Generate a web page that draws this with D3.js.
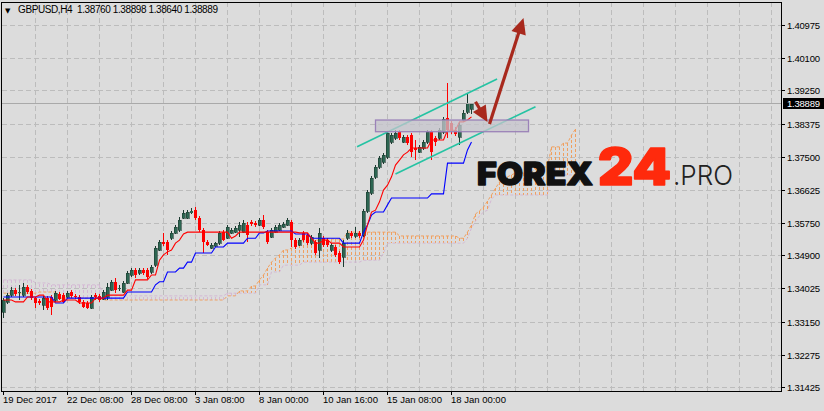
<!DOCTYPE html>
<html><head><meta charset="utf-8">
<script src="https://cdn.jsdelivr.net/npm/d3@7"></script>
<style>
html,body{margin:0;padding:0;background:#dcdcdc;}
svg{display:block;}
</style></head><body>
<svg id="c" width="824" height="411"></svg>
<script>
// ---------- DATA ----------
const symbolTitle = "GBPUSD,H4";
const titleQuote = ["1.38760","1.38898","1.38640","1.38889"];

const openP = [1.3340,1.3367,1.3385,1.3398,1.3390,1.3385,1.3406,1.3396,1.3377,1.3369,
1.3359,1.3377,1.3380,1.3372,1.3388,1.3385,1.3380,1.3393,1.3383,1.3380,
1.3367,1.3364,1.3351,1.3385,1.3383,1.3375,1.3380,1.3398,1.3420,1.3401,
1.3393,1.3417,1.3438,1.3451,1.3443,1.3451,1.3451,1.3446,1.3464,1.3504,
1.3525,1.3525,1.3535,1.3549,1.3557,1.3588,1.3588,1.3602,1.3609,1.3588,
1.3557,1.3525,1.3509,1.3514,1.3522,1.3551,1.3535,1.3549,1.3551,1.3557,
1.3551,1.3570,1.3578,1.3575,1.3570,1.3583,1.3551,1.3538,1.3551,1.3557,
1.3565,1.3570,1.3578,1.3530,1.3517,1.3549,1.3543,1.3522,1.3525,1.3504,
1.3535,1.3530,1.3504,1.3512,1.3496,1.3485,1.3535,1.3549,1.3541,1.3549,
1.3543,1.3607,1.3654,1.3697,1.3723,1.3736,1.3749,1.3789,1.3799,1.3815,
1.3789,1.3802,1.3807,1.3773,1.3762,1.3773,1.3789,1.3815,1.3799,1.3799,
1.3815,1.3852,1.3839,1.3820,1.3802,1.3847,1.3868,1.38760];
const highP = [1.3377,1.3390,1.3406,1.3404,1.3412,1.3417,1.3412,1.3401,1.3380,1.3375,
1.3383,1.3383,1.3385,1.3396,1.3393,1.3390,1.3396,1.3398,1.3388,1.3385,
1.3372,1.3369,1.3385,1.3390,1.3388,1.3398,1.3417,1.3425,1.3430,1.3412,
1.3422,1.3449,1.3456,1.3456,1.3456,1.3456,1.3456,1.3464,1.3514,1.3530,
1.3549,1.3530,1.3554,1.3570,1.3591,1.3609,1.3609,1.3615,1.3617,1.3594,
1.3562,1.3530,1.3522,1.3525,1.3554,1.3557,1.3570,1.3562,1.3567,1.3578,
1.3583,1.3578,1.3583,1.3580,1.3588,1.3596,1.3557,1.3562,1.3570,1.3575,
1.3578,1.3588,1.3583,1.3535,1.3535,1.3554,1.3549,1.3543,1.3530,1.3562,
1.3541,1.3535,1.3522,1.3517,1.3501,1.3530,1.3557,1.3554,1.3565,1.3554,
1.3612,1.3662,1.3699,1.3728,1.3752,1.3760,1.3818,1.3813,1.3820,1.3820,
1.3807,1.3807,1.3813,1.3794,1.3781,1.3794,1.3820,1.3820,1.3805,1.3826,
1.3855,1.3944,1.3844,1.3829,1.3842,1.3873,1.3918,1.38898];
const lowP = [1.3325,1.3362,1.3380,1.3383,1.3372,1.3380,1.3388,1.3372,1.3351,1.3359,
1.3346,1.3346,1.3332,1.3367,1.3372,1.3364,1.3377,1.3377,1.3375,1.3362,
1.3351,1.3348,1.3348,1.3372,1.3367,1.3372,1.3372,1.3396,1.3390,1.3396,
1.3390,1.3414,1.3433,1.3430,1.3438,1.3438,1.3427,1.3441,1.3459,1.3501,
1.3514,1.3491,1.3530,1.3546,1.3551,1.3586,1.3586,1.3599,1.3583,1.3551,
1.3496,1.3514,1.3506,1.3512,1.3517,1.3528,1.3533,1.3546,1.3549,1.3538,
1.3549,1.3525,1.3567,1.3565,1.3567,1.3559,1.3520,1.3535,1.3549,1.3554,
1.3562,1.3567,1.3512,1.3506,1.3514,1.3525,1.3517,1.3517,1.3491,1.3483,
1.3512,1.3512,1.3499,1.3485,1.3467,1.3459,1.3530,1.3535,1.3535,1.3535,
1.3538,1.3602,1.3649,1.3691,1.3717,1.3731,1.3744,1.3783,1.3794,1.3794,
1.3786,1.3781,1.3749,1.3741,1.3760,1.3768,1.3783,1.3741,1.3778,1.3794,
1.3810,1.3799,1.3810,1.3805,1.3781,1.3842,1.3862,1.38640];
const closeP = [1.3372,1.3385,1.3398,1.3388,1.3393,1.3406,1.3393,1.3377,1.3364,1.3364,
1.3377,1.3351,1.3354,1.3390,1.3375,1.3367,1.3390,1.3383,1.3380,1.3367,
1.3354,1.3351,1.3380,1.3380,1.3372,1.3393,1.3406,1.3420,1.3398,1.3404,
1.3417,1.3443,1.3451,1.3438,1.3451,1.3443,1.3433,1.3459,1.3509,1.3525,
1.3520,1.3504,1.3549,1.3565,1.3583,1.3602,1.3604,1.3607,1.3588,1.3557,
1.3525,1.3517,1.3517,1.3522,1.3549,1.3530,1.3565,1.3557,1.3562,1.3570,
1.3575,1.3543,1.3572,1.3570,1.3583,1.3565,1.3525,1.3557,1.3565,1.3570,
1.3572,1.3583,1.3530,1.3512,1.3530,1.3530,1.3522,1.3538,1.3496,1.3549,
1.3517,1.3517,1.3517,1.3491,1.3472,1.3522,1.3549,1.3541,1.3549,1.3541,
1.3607,1.3657,1.3694,1.3723,1.3747,1.3755,1.3813,1.3807,1.3813,1.3799,
1.3802,1.3786,1.3762,1.3768,1.3776,1.3789,1.3815,1.3762,1.3789,1.3820,
1.3850,1.3820,1.3818,1.3810,1.3834,1.3865,1.3892,1.38889];

// Ichimoku lines as runs: [first bar index, value]
const tenkanRuns = [[0,1.3372],[3,1.3367],[6,1.3380],[9,1.3385],[11,1.3367],[15,1.3372],[19,1.3364],[23,1.3377],
[26,1.3385],[31,1.3398],[33,1.3425],[37,1.3438],[39,1.3477],[40,1.3491],[41,1.3499],[42,1.3504],[43,1.3522],[44,1.3530],
[45,1.3546],[46,1.3551],[57,1.3535],[58,1.3541],[59,1.3551],[74,1.3549],[77,1.3535],[78,1.3522],[80,1.3530],[82,1.3522],
[85,1.3512],[90,1.3530],[91,1.3570],[92,1.3604],[93,1.3609],[94,1.3631],[95,1.3662],[96,1.3675],[97,1.3697],[98,1.3728],
[99,1.3741],[100,1.3755],[101,1.3762],[102,1.3773],[107,1.3794],[111,1.3820],[114,1.3842],[116,1.3847],[117,1.3855]];
const kijunRuns = [[0,1.3380],[13,1.3364],[16,1.3377],[31,1.3393],[38,1.3412],[39,1.3420],[41,1.3446],[44,1.3456],
[46,1.3472],[48,1.3496],[53,1.3512],[56,1.3522],[61,1.3535],[64,1.3549],[66,1.3554],[73,1.3546],[77,1.3535],[85,1.3522],
[90,1.3551],[91,1.3570],[92,1.3596],[93,1.3604],[96,1.3623],[97,1.3641],[107,1.3652],[111,1.3733],[116,1.3768],[117,1.3789]];
const spanARuns = [[0,1.3390],[9,1.3393],[14,1.3377],[25,1.3372],[56,1.3383],[59,1.3396],[62,1.3409],[64,1.3425],
[65,1.3438],[66,1.3456],[67,1.3472],[68,1.3483],[69,1.3491],[70,1.3504],[72,1.3509],[73,1.3517],[74,1.3530],[80,1.3533],
[86,1.3551],[99,1.3541],[114,1.3535],[116,1.3551],[117,1.3570],[118,1.3599],[119,1.3607],[120,1.3617],[121,1.3633],
[122,1.3649],[123,1.3667],[124,1.3683],[125,1.3691],[126,1.3697],[127,1.3702],[128,1.3707],[133,1.3723],[137,1.3776],
[140,1.3786],[142,1.3807],[143,1.3823]];
const spanBRuns = [[0,1.3425],[8,1.3417],[12,1.3412],[25,1.3383],[56,1.3390],[64,1.3412],[67,1.3446],[70,1.3464],
[75,1.3472],[90,1.3477],[95,1.3496],[96,1.3522],[116,1.3535],[117,1.3562],[118,1.3580],[119,1.3594],[120,1.3604],
[121,1.3609],[122,1.3638],[123,1.3649],[137,1.3702]];
const spanLength = 144;

const yTicks = [1.40975,1.40100,1.39250,1.38375,1.37500,1.36625,1.35750,1.34900,1.34025,1.33150,1.32275,1.31425];
const xTickIndex = [0,16,32,48,64,80,96,112];
const xTickLabels = ["19 Dec 2017","22 Dec 08:00","28 Dec 08:00","3 Jan 08:00","8 Jan 00:00","10 Jan 16:00","15 Jan 08:00","18 Jan 00:00"];
const lastPrice = 1.38889;
const zoneBars = [93, 131.25], zonePrices = [1.38468, 1.38160];
const channelUpper = [[88.4,1.37764],[123.4,1.39550]];
const channelLower = [[98,1.37044],[133,1.38819]];
const arrowDown = [[118,1.38951],[121,1.38416]];
const arrowUp = [[121.5,1.38363],[130,1.41159]];

// ---------- CHART ----------
const svg = d3.select("#c");
const L = 2, R = 781, T = 2, B = 391;
const x = d3.scaleLinear().domain([0, 1]).range([3.5, 7.5]);
const y = d3.scaleLinear().domain([1.31425, 1.40975]).range([387, 25]);
const n = openP.length;
function expand(runs, len) {
  const out = [];
  let k = 0;
  for (let i = 0; i < len; i++) {
    while (k + 1 < runs.length && runs[k + 1][0] <= i) k++;
    out.push(runs[k][1]);
  }
  return out;
}
const tenkan = expand(tenkanRuns, n), kijun = expand(kijunRuns, n);
const spanA = expand(spanARuns, spanLength), spanB = expand(spanBRuns, spanLength);

svg.append("rect").attr("width", 824).attr("height", 411).attr("fill", "#dcdcdc");
svg.append("defs").append("clipPath").attr("id", "pc")
  .append("rect").attr("x", L).attr("y", T + 1).attr("width", R - L).attr("height", B - T - 1);

const font = "'Liberation Sans', Arial, sans-serif";
// grid
const grid = svg.append("g").attr("stroke", "#bcbcbc").attr("stroke-dasharray", "5,3").attr("shape-rendering", "crispEdges");
yTicks.forEach(t => grid.append("line").attr("x1", L).attr("x2", R)
  .attr("y1", Math.round(y(t)) + 0.5).attr("y2", Math.round(y(t)) + 0.5));
d3.range(8, 196, 8).forEach(i => grid.append("line").attr("y1", T).attr("y2", B)
  .attr("x1", Math.floor(x(i)) + 0.5).attr("x2", Math.floor(x(i)) + 0.5));

const plot = svg.append("g").attr("clip-path", "url(#pc)");

// cloud hatch
const hatch = plot.append("g").attr("stroke-width", 1).attr("stroke-dasharray", "3,2").attr("shape-rendering", "crispEdges");
spanA.forEach((a, j) => {
  const b = spanB[j];
  hatch.append("line").attr("x1", Math.floor(x(j)) + 0.5).attr("x2", Math.floor(x(j)) + 0.5)
    .attr("y1", Math.round(y(a))).attr("y2", Math.round(y(b))).attr("stroke", a >= b ? "#f0a060" : "#d4b8d4");
});
const ln = d3.line().x((d, i) => x(i)).y(d => y(d));
plot.append("path").attr("d", ln(spanB)).attr("fill", "none").attr("stroke", "#d4b8d4").attr("stroke-dasharray", "3,2");
plot.append("path").attr("d", ln(spanA)).attr("fill", "none").attr("stroke", "#f0a060").attr("stroke-dasharray", "3,2");

// price line
svg.append("line").attr("x1", L).attr("x2", R).attr("y1", Math.round(y(lastPrice)) - 0.5).attr("y2", Math.round(y(lastPrice)) - 0.5)
  .attr("stroke", "#a9a9a9").attr("shape-rendering", "crispEdges");

// candles
const cg = plot.append("g").attr("shape-rendering", "crispEdges");
for (let i = 0; i < n; i++) {
  const cx = Math.floor(x(i));
  const bull = closeP[i] >= openP[i];
  const col = bull ? "#1c3a30" : "#ff0000";
  cg.append("rect").attr("x", cx).attr("width", 1)
    .attr("y", Math.round(y(highP[i]))).attr("height", Math.max(1, Math.round(y(lowP[i])) - Math.round(y(highP[i]))))
    .attr("fill", col);
  const top = Math.round(y(Math.max(openP[i], closeP[i])));
  const bot = Math.round(y(Math.min(openP[i], closeP[i])));
  cg.append("rect").attr("x", cx - 1).attr("width", 3).attr("y", top).attr("height", Math.max(1, bot - top))
    .attr("fill", bull ? "#2d6652" : "#ff0000");
  if (bull && bot - top > 2) {
    cg.append("rect").attr("x", cx - 1).attr("width", 3).attr("y", top).attr("height", bot - top)
      .attr("fill", "none").attr("stroke", "#1c3a30").attr("stroke-width", 0.6);
  }
}
// tenkan / kijun
plot.append("path").attr("d", ln(kijun)).attr("fill", "none").attr("stroke", "#0000ff").attr("stroke-width", 1.1);
plot.append("path").attr("d", ln(tenkan)).attr("fill", "none").attr("stroke", "#ff0000").attr("stroke-width", 1.1);

// channel
[channelUpper, channelLower].forEach(c => svg.append("line")
  .attr("x1", x(c[0][0])).attr("y1", y(c[0][1])).attr("x2", x(c[1][0])).attr("y2", y(c[1][1]))
  .attr("stroke", "#25c3a3").attr("stroke-width", 1.6));
// zone rectangle
svg.append("rect").attr("x", x(zoneBars[0])).attr("y", y(zonePrices[0]))
  .attr("width", x(zoneBars[1]) - x(zoneBars[0])).attr("height", y(zonePrices[1]) - y(zonePrices[0]))
  .attr("fill", "#c6c4cc").attr("fill-opacity", 0.75).attr("stroke", "#9b82b8").attr("stroke-width", 1.3);

// arrows
function arrow(p0, p1) {
  const x0 = x(p0[0]), y0 = y(p0[1]), x1 = x(p1[0]), y1 = y(p1[1]);
  const dx = x1 - x0, dy = y1 - y0, len = Math.hypot(dx, dy), ux = dx / len, uy = dy / len;
  const hl = 16, hw = 15;
  const bx = x1 - ux * hl, by = y1 - uy * hl;
  svg.append("line").attr("x1", x0).attr("y1", y0).attr("x2", bx + ux * 2).attr("y2", by + uy * 2)
    .attr("stroke", "#a8291d").attr("stroke-width", 3.2);
  svg.append("path").attr("d", `M${x1},${y1}L${bx - uy * hw / 2},${by + ux * hw / 2}L${bx + uy * hw / 2},${by - ux * hw / 2}Z`)
    .attr("fill", "#a8291d");
}
arrow(arrowDown[0], arrowDown[1]);
arrow(arrowUp[0], arrowUp[1]);

// logo
const logo = svg.append("g").attr("font-family", "Inter, 'Noto Sans', sans-serif");
logo.append("text").attr("x", 477).attr("y", 185).attr("font-size", 32).attr("font-weight", 900)
  .attr("fill", "#111").attr("stroke", "#111").attr("stroke-width", 1.3).attr("stroke-linejoin", "round")
  .attr("textLength", 116).attr("lengthAdjust", "spacingAndGlyphs").text("FOREX");
logo.append("text").attr("x", 598).attr("y", 185).attr("font-size", 51).attr("font-weight", 900)
  .attr("fill", "#ff2a0c").attr("stroke", "#ff2a0c").attr("stroke-width", 1.6).attr("stroke-linejoin", "round")
  .attr("textLength", 73).attr("lengthAdjust", "spacingAndGlyphs").text("24");
logo.append("text").attr("x", 673).attr("y", 185).attr("font-size", 27.5).attr("font-weight", 300)
  .attr("fill", "#222").attr("textLength", 60).attr("lengthAdjust", "spacingAndGlyphs").text(".PRO");

// frame
svg.append("rect").attr("x", 1.5).attr("y", 2.5).attr("width", R - 1.5).attr("height", B - 2.5)
  .attr("fill", "none").attr("stroke", "#000").attr("shape-rendering", "crispEdges");

// y axis
const ya = svg.append("g").attr("font-family", font).attr("font-size", 9.5).attr("fill", "#000");
yTicks.forEach(t => {
  const yy = Math.round(y(t)) + 0.5;
  ya.append("line").attr("x1", R).attr("x2", R + 4).attr("y1", yy).attr("y2", yy).attr("stroke", "#000").attr("shape-rendering", "crispEdges");
  ya.append("text").attr("x", 787).attr("y", yy).attr("dy", "0.35em").attr("textLength", 33).text(t.toFixed(5));
});
const ly = Math.round(y(lastPrice)) - 1;
svg.append("rect").attr("x", 783).attr("y", ly - 5).attr("width", 41).attr("height", 11).attr("fill", "#000");
svg.append("text").attr("x", 787).attr("y", ly + 0.5).attr("dy", "0.35em").attr("font-family", font)
  .attr("font-size", 9.5).attr("textLength", 33).attr("fill", "#fff").text(lastPrice.toFixed(5));

// x axis
const xa = svg.append("g").attr("font-family", font).attr("font-size", 9.5).attr("fill", "#000");
xTickIndex.forEach((i, k) => {
  const xx = Math.floor(x(i)) + 0.5;
  xa.append("line").attr("x1", xx).attr("x2", xx).attr("y1", B).attr("y2", B + 4).attr("stroke", "#000").attr("shape-rendering", "crispEdges");
  xa.append("text").attr("x", xx - 0.5).attr("y", 403).text(xTickLabels[k]);
});

// title
svg.append("text").attr("x", 5).attr("y", 13).attr("font-family", "'DejaVu Sans', sans-serif").attr("font-size", 7).text("▼");
svg.append("text").attr("x", 18).attr("y", 13).attr("font-family", font).attr("font-size", 10).attr("fill", "#000")
  .attr("xml:space", "preserve").attr("textLength", 200).text(symbolTitle + "  " + titleQuote.join(" "));
</script>
</body></html>
